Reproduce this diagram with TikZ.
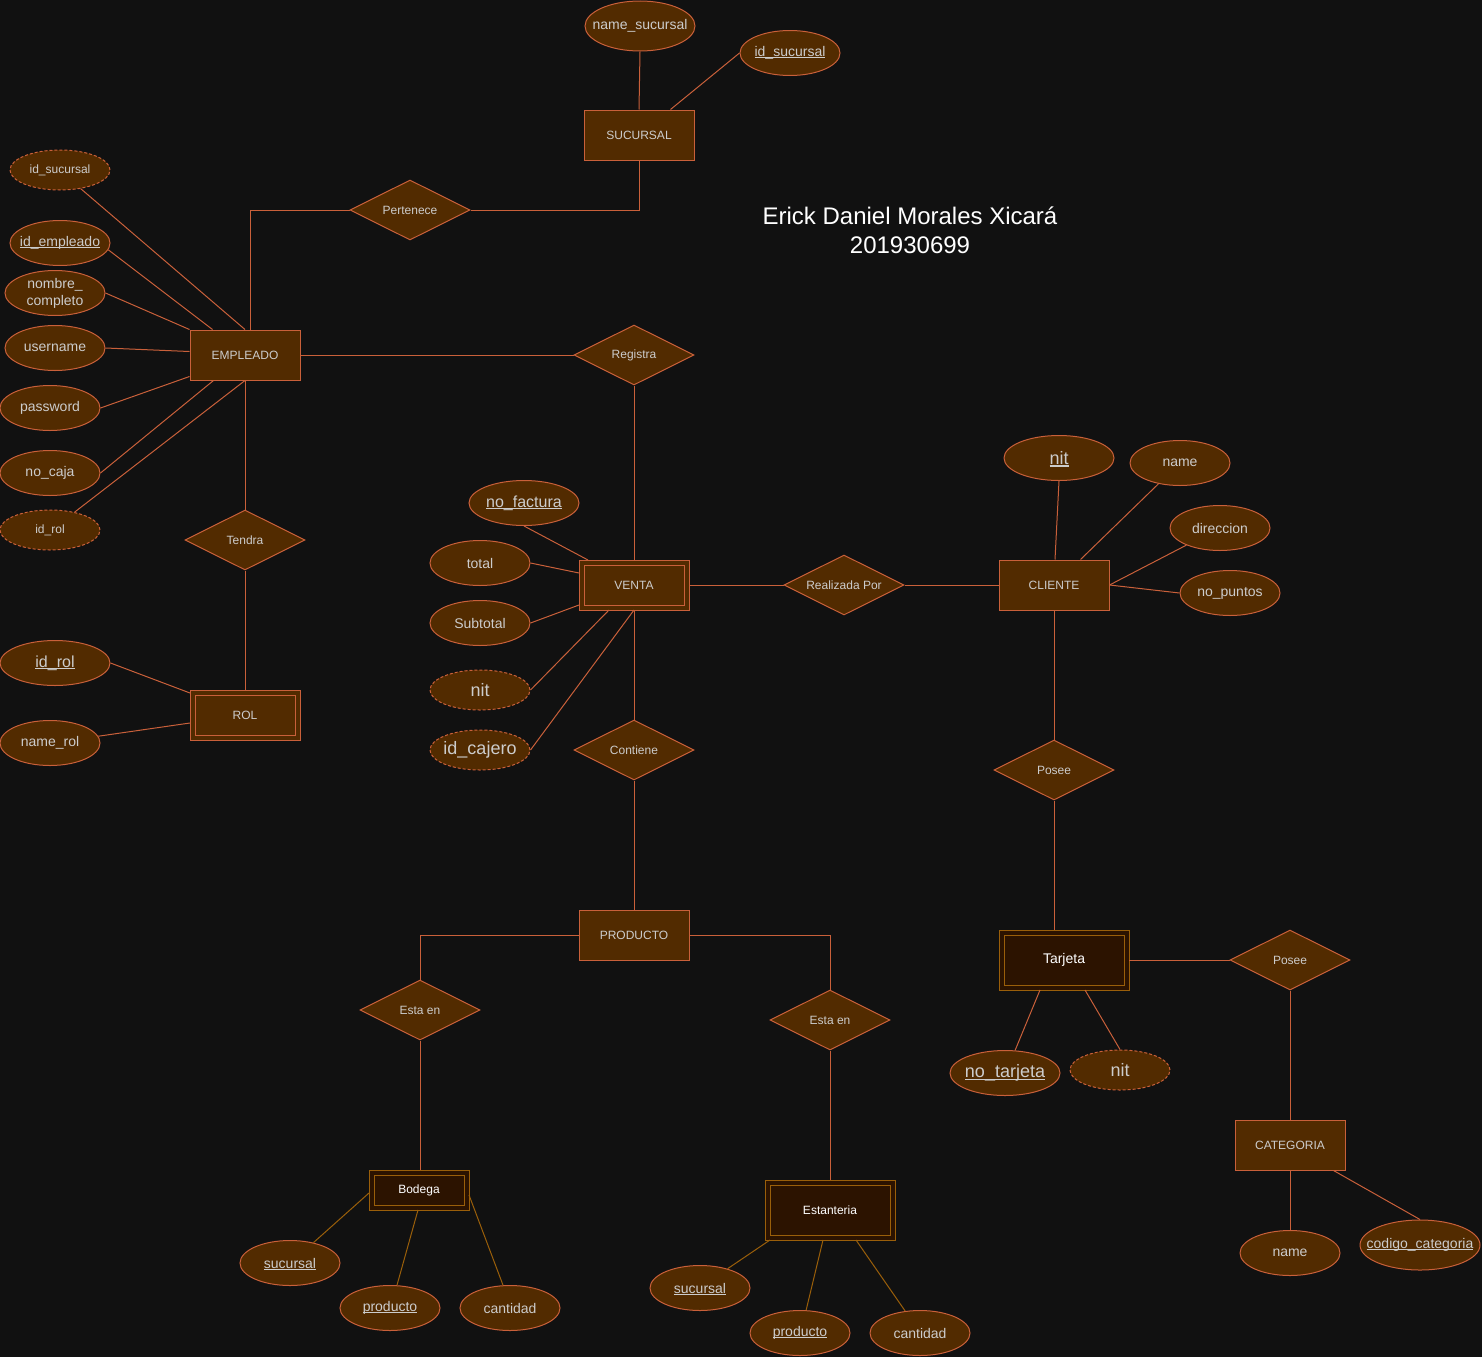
\documentclass[tikz,border=0pt]{standalone}
\usepackage{fontspec}
\setmainfont{Liberation Sans}
\usetikzlibrary{shapes.geometric}

\definecolor{fondo}{HTML}{111111}
\definecolor{relleno}{HTML}{522B00}
\definecolor{borde}{HTML}{C9603A}
\definecolor{texto}{HTML}{CCCCCC}
\definecolor{oscuro}{HTML}{2C1300}
\definecolor{oro}{HTML}{9A5F0A}

\newcommand{\etq}[1]{\makebox[0pt]{#1}}
\newcommand{\subr}[1]{\setbox0\hbox{#1}\rlap{\smash{\rule[-0.12em]{\wd0}{0.07em}}}\box0}

\tikzset{
  letra12/.style={font=\fontsize{12}{14}\selectfont},
  letra14/.style={font=\fontsize{14}{17}\selectfont},
  letra16/.style={font=\fontsize{16}{19}\selectfont},
  letra18/.style={font=\fontsize{18}{21}\selectfont},
  letra24/.style={font=\fontsize{24}{29}\selectfont},
  atributo/.style={ellipse, draw=borde, fill=relleno, line width=1pt, minimum width=100, minimum height=45, inner sep=0pt, text=texto, letra14},
  derivado/.style={atributo, minimum height=40, dash pattern=on 3pt off 2pt},
  entidad/.style={rectangle, draw=borde, fill=relleno, line width=1pt, minimum width=110, minimum height=50, inner sep=0pt, text=texto, letra12},
  entidaddoble/.style={entidad, double=relleno, double distance=4pt, minimum width=105, minimum height=45, outer sep=2.5pt},
  debil/.style={entidaddoble, draw=oro, fill=oscuro, double=oscuro, text=white},
  relacion/.style={diamond, draw=borde, fill=relleno, line width=1pt, minimum width=120, minimum height=60, aspect=2, inner sep=0pt, text=texto, letra12},
  linea/.style={draw=borde, line width=1pt},
  lineaoro/.style={draw=oro, line width=1pt}
}

\begin{document}
\begin{tikzpicture}[x=1pt,y=-1pt]

\fill[fondo] (0,0) rectangle (1482,1357);
\useasboundingbox (0,0) rectangle (1482,1357);

% sucursal
\node[entidad] (sucursal) at (639,135) {SUCURSAL};
\node[atributo, minimum width=110, minimum height=50] (namesuc) at (640,26) {\etq{name\_sucursal}};
\node[atributo] (idsuc) at (790,53) {\etq{\subr{id\_sucursal}}};
\node[relacion] (pertenece) at (410,210) {Pertenece};

% empleado
\node[entidad] (empleado) at (245,355) {EMPLEADO};
\node[derivado, letra12] (idsucemp) at (60,170) {\etq{id\_sucursal}};
\node[atributo] (idemp) at (60,243) {\etq{\subr{id\_empleado}}};
\node[atributo, align=center] (nombre) at (55,293) {nombre\_\\completo};
\node[atributo] (username) at (55,348) {\etq{username}};
\node[atributo] (password) at (50,408) {\etq{password}};
\node[atributo] (nocaja) at (50,473) {\etq{no\_caja}};
\node[derivado, letra12] (idrolemp) at (50,530) {\etq{id\_rol}};
\node[relacion] (tendra) at (245,540) {Tendra};

% rol
\node[entidaddoble] (rol) at (245,715) {ROL};
\node[atributo, minimum width=110, letra16] (idrol) at (55,663) {\etq{\subr{id\_rol}}};
\node[atributo] (namerol) at (50,743) {\etq{name\_rol}};

% venta
\node[relacion] (registra) at (634,355) {Registra};
\node[entidaddoble] (venta) at (634,585) {VENTA};
\node[atributo, minimum width=110, letra16] (nofactura) at (524,503) {\etq{\subr{no\_factura}}};
\node[atributo] (total) at (480,563) {\etq{total}};
\node[atributo] (subtotal) at (480,623) {\etq{Subtotal}};
\node[derivado, letra18] (nitventa) at (480,690) {\etq{nit}};
\node[derivado, letra18] (idcajero) at (480,750) {\etq{id\_cajero}};
\node[relacion] (contiene) at (634,750) {Contiene};
\node[relacion] (realizada) at (844,585) {Realizada Por};

% cliente
\node[entidad] (cliente) at (1054,585) {CLIENTE};
\node[atributo, minimum width=110, letra18] (nit) at (1059,458) {\etq{\subr{nit}}};
\node[atributo] (namecli) at (1180,463) {\etq{name}};
\node[atributo] (direccion) at (1220,528) {\etq{direccion}};
\node[atributo] (nopuntos) at (1230,593) {\etq{no\_puntos}};
\node[relacion] (poseetarjeta) at (1054,770) {Posee};

% tarjeta y categoria
\node[debil, minimum width=125, minimum height=55, letra14] (tarjeta) at (1064,960) {Tarjeta};
\node[atributo, minimum width=110, letra18] (notarjeta) at (1005,1073) {\etq{\subr{no\_tarjeta}}};
\node[derivado, letra18] (nittarjeta) at (1120,1070) {\etq{nit}};
\node[relacion] (poseecat) at (1290,960) {Posee};
\node[entidad] (categoria) at (1290,1145) {CATEGORIA};
\node[atributo] (namecat) at (1290,1253) {\etq{name}};
\node[atributo, minimum width=120, minimum height=50] (codigo) at (1420,1245) {\etq{\subr{codigo\_categoria}}};

% producto
\node[entidad] (producto) at (634,935) {PRODUCTO};
\node[relacion] (estabodega) at (420,1010) {Esta en};
\node[relacion] (estaestante) at (830,1020) {Esta en};
\node[debil, minimum width=95, minimum height=35] (bodega) at (419,1190) {Bodega};
\node[atributo] (sucbod) at (290,1263) {\etq{\subr{sucursal}}};
\node[atributo] (prodbod) at (390,1308) {\etq{\subr{producto}}};
\node[atributo] (cantbod) at (510,1308) {\etq{cantidad}};
\node[debil, minimum width=125, minimum height=55] (estanteria) at (830,1210) {Estanteria};
\node[atributo] (sucest) at (700,1288) {\etq{\subr{sucursal}}};
\node[atributo] (prodest) at (800,1333) {\etq{\subr{producto}}};
\node[atributo] (cantest) at (920,1333) {\etq{cantidad}};

\node[text=white, letra24, align=center] (autor) at (910,230) {Erick Daniel Morales Xicará\\201930699};

% relaciones
\draw[linea] (sucursal.south) |- (pertenece.east);
\draw[linea] (pertenece.west) -| ([xshift=5pt]empleado.north);
\draw[linea] (empleado.east) -- (registra.west);
\draw[linea] (registra.south) -- (venta.north);
\draw[linea] (empleado.south) -- (tendra.north);
\draw[linea] (tendra.south) -- (rol.north);
\draw[linea] (venta.east) -- (realizada.west);
\draw[linea] (realizada.east) -- (cliente.west);
\draw[linea] (venta.south) -- (contiene.north);
\draw[linea] (contiene.south) -- (producto.north);
\draw[linea] (cliente.south) -- (poseetarjeta.north);
\draw[linea] (poseetarjeta.south) -- ([xshift=-10pt]tarjeta.north);
\draw[linea] (tarjeta.east) -- (poseecat.west);
\draw[linea] (poseecat.south) -- (categoria.north);
\draw[linea] (producto.west) -| (estabodega.north);
\draw[linea] (producto.east) -| (estaestante.north);
\draw[linea] (estabodega.south) -- ([xshift=1pt]bodega.north);
\draw[linea] (estaestante.south) -- (estanteria.north);

% atributos
\draw[linea] (namesuc.south) -- (sucursal.north);
\draw[linea] (idsuc.west) -- ([xshift=-24pt]sucursal.north east);
\draw[linea] (idsucemp.-42) -- (empleado.north);
\draw[linea] (idemp.-8) -- ([xshift=23pt]empleado.north west);
\draw[linea] (nombre.east) -- (empleado.north west);
\draw[linea] (username.east) -- ([yshift=-22pt]empleado.north west);
\draw[linea] (password.east) -- ([yshift=4pt]empleado.south west);
\draw[linea] (nocaja.east) -- ([xshift=24pt]empleado.south west);
\draw[linea] (idrolemp.36) -- (empleado.south);
\draw[linea] (idrol.east) -- ([yshift=-3pt]rol.north west);
\draw[linea] (namerol.8) -- ([yshift=-33pt]rol.north west);
\draw[linea] (nofactura.south) -- ([xshift=9pt]venta.north west);
\draw[linea] (total.east) -- ([yshift=-13pt]venta.north west);
\draw[linea] (subtotal.east) -- ([yshift=5pt]venta.south west);
\draw[linea] (nitventa.east) -- ([xshift=30pt]venta.south west);
\draw[linea] (idcajero.east) -- (venta.south);
\draw[linea] (nit.south) -- ([xshift=1pt]cliente.north);
\draw[linea] (namecli.-136) -- ([xshift=-29pt]cliente.north east);
\draw[linea] (direccion.-153) -- (cliente.east);
\draw[linea] (nopuntos.west) -- (cliente.east);
\draw[linea] (notarjeta.66) -- ([xshift=-24pt]tarjeta.south);
\draw[linea] (nittarjeta.north) -- ([xshift=21pt]tarjeta.south);
\draw[linea] (namecat.north) -- (categoria.south);
\draw[linea] (codigo.north) -- ([xshift=-12pt]categoria.south east);
\draw[lineaoro] (sucbod.41) -- ([yshift=-23pt]bodega.north west);
\draw[lineaoro] (prodbod.73) -- ([xshift=-1pt]bodega.south);
\draw[lineaoro] (cantbod.107) -- ([yshift=-25pt]bodega.north east);
\draw[lineaoro] (sucest.35) -- ([xshift=5pt]estanteria.south west);
\draw[lineaoro] (prodest.75) -- ([xshift=-7pt]estanteria.south);
\draw[lineaoro] (cantest.124) -- ([xshift=-39pt]estanteria.south east);

\end{tikzpicture}
\end{document}
